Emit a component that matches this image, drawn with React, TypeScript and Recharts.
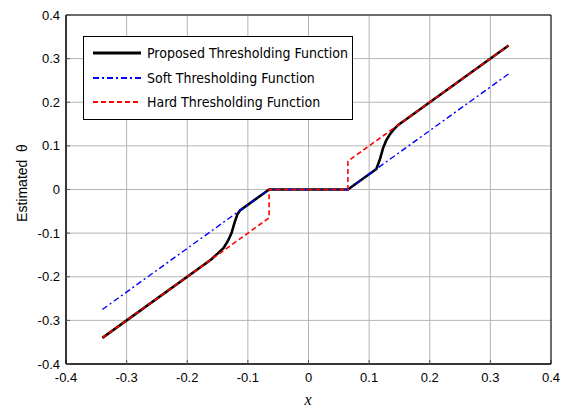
import { LineChart, Line, XAxis, YAxis, CartesianGrid, Legend } from "recharts";

const ticks = [-0.4, -0.3, -0.2, -0.1, 0, 0.1, 0.2, 0.3, 0.4];

// proposed thresholding function
const proposedX = [-0.34, -0.16, -0.15, -0.14, -0.133, -0.127, -0.122, -0.117, -0.113, -0.065, 0.065, 0.112, 0.118, 0.123, 0.128, 0.134, 0.14, 0.148, 0.16, 0.33];
const proposedY = [-0.34, -0.16, -0.147, -0.134, -0.118, -0.1, -0.076, -0.056, -0.048, 0, 0, 0.047, 0.07, 0.095, 0.112, 0.126, 0.137, 0.148, 0.16, 0.33];

// soft thresholding
const softX = [-0.34, -0.065, 0.065, 0.33];
const softY = [-0.275, 0, 0, 0.265];

// hard thresholding
const hardX = [-0.34, -0.065, -0.065, 0.065, 0.065, 0.33];
const hardY = [-0.34, -0.065, 0, 0, 0.065, 0.33];

const toPoints = (xs: number[], ys: number[]) => xs.map((x, i) => ({ x, y: ys[i] }));

const series = [
  { name: "Proposed Thresholding Function", data: toPoints(proposedX, proposedY), color: "#000000", width: 2.6, dash: undefined },
  { name: "Soft Thresholding Function", data: toPoints(softX, softY), color: "#0000ff", width: 1.4, dash: "6 3 2 3" },
  { name: "Hard Thresholding Function", data: toPoints(hardX, hardY), color: "#ff0000", width: 1.6, dash: "5 3" },
];

const fmt = (v: number) => (Math.abs(v) < 1e-9 ? "0" : v.toFixed(1));

const tickFont = { fontFamily: "'Liberation Sans', Arial, sans-serif", fontSize: 13, fill: "#000" };

function LegendBox() {
  return (
    <div
      style={{
        border: "1px solid #000",
        background: "#fff",
        padding: "4px 4px 4px 9px",
        fontFamily: "'DejaVu Sans Condensed', 'DejaVu Sans', sans-serif",
        fontSize: 14,
        color: "#000",
      }}
    >
      {series.map((s) => (
        <div key={s.name} style={{ display: "flex", alignItems: "center", height: 24.5 }}>
          <svg width={48} height={8} style={{ marginRight: 6 }}>
            <line x1={0} y1={4} x2={48} y2={4} stroke={s.color} strokeWidth={s.width + 0.4} strokeDasharray={s.dash} />
          </svg>
          <span style={{ whiteSpace: "nowrap" }}>{s.name}</span>
        </div>
      ))}
    </div>
  );
}

export default function App() {
  return (
    <div style={{ position: "relative", width: 565, height: 412 }}>
      <style>{"body{margin:0}"}</style>
      <LineChart width={565} height={412} margin={{ top: 14, right: 13, bottom: 0, left: 0 }}>
        <CartesianGrid stroke="#b4b4b4" strokeWidth={1} />
        <XAxis
          dataKey="x"
          type="number"
          domain={[-0.4, 0.4]}
          ticks={ticks}
          tickFormatter={fmt}
          height={48}
          tickSize={-4}
          tickMargin={13}
          axisLine={{ stroke: "#000", strokeWidth: 1.5 }}
          tickLine={{ stroke: "#555" }}
          tick={tickFont}
          allowDataOverflow
          label={{
            content: () => (
              <text x={308} y={405} textAnchor="middle" fontFamily="'Liberation Serif', 'Times New Roman', serif" fontStyle="italic" fontSize={16}>
                x
              </text>
            ),
          }}
        />
        <XAxis
          xAxisId="top"
          orientation="top"
          type="number"
          domain={[-0.4, 0.4]}
          ticks={ticks}
          height={1}
          tickSize={-4}
          tickFormatter={() => ""}
          axisLine={{ stroke: "#000", strokeWidth: 1 }}
          tickLine={{ stroke: "#555" }}
        />
        <YAxis
          type="number"
          domain={[-0.4, 0.4]}
          ticks={ticks}
          tickFormatter={fmt}
          width={66}
          tickSize={-4}
          tickMargin={10}
          axisLine={{ stroke: "#000", strokeWidth: 1.5 }}
          tickLine={{ stroke: "#555" }}
          tick={tickFont}
          allowDataOverflow
          label={{
            content: () => (
              <text x={27} y={183} textAnchor="middle" transform="rotate(-90 27 183)" fontFamily="'Liberation Sans', Arial, sans-serif" fontSize={14}>
                Estimated&#160;&#160;θ
              </text>
            ),
          }}
        />
        <YAxis
          yAxisId="right"
          orientation="right"
          type="number"
          domain={[-0.4, 0.4]}
          ticks={ticks}
          width={1}
          tickSize={-4}
          tickFormatter={() => ""}
          axisLine={{ stroke: "#000", strokeWidth: 1 }}
          tickLine={{ stroke: "#555" }}
        />
        {series.map((s) => (
          <Line
            key={s.name}
            data={s.data}
            dataKey="y"
            name={s.name}
            type="linear"
            stroke={s.color}
            strokeWidth={s.width}
            strokeDasharray={s.dash}
            dot={false}
            activeDot={false}
            isAnimationActive={false}
          />
        ))}
        <Legend
          layout="horizontal"
          verticalAlign="middle"
          align="center"
          content={() => <LegendBox />}
          wrapperStyle={{ position: "absolute", left: 83, top: 36, width: "auto", height: "auto" }}
        />
      </LineChart>
    </div>
  );
}
